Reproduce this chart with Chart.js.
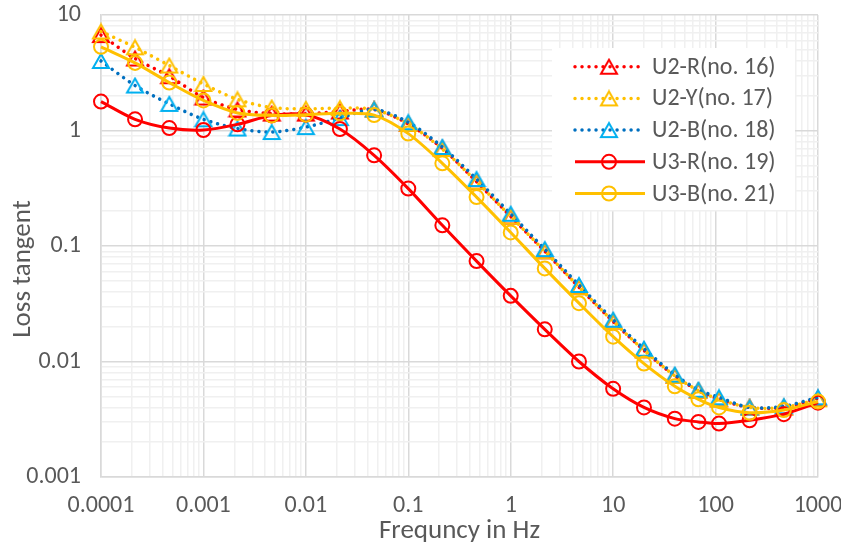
<!DOCTYPE html>
<html>
<head>
<meta charset="utf-8">
<title>Loss tangent vs frequency</title>
<script src="https://cdn.jsdelivr.net/npm/chart.js@4.4.1/dist/chart.umd.min.js"></script>
<style>
  html, body { margin: 0; padding: 0; background: #fff; }
  #wrap { position: relative; width: 841px; height: 546px; }
</style>
</head>
<body>
<div id="wrap"><canvas id="chart" width="841" height="546"></canvas></div>
<script>
// measurement frequencies (Hz), shared by every sample
const freq = [0.0001, 0.000215, 0.000464, 0.001, 0.00215, 0.00464, 0.01, 0.0215, 0.0464,
  0.1, 0.215, 0.464, 1, 2.15, 4.64, 10, 20, 40, 68, 108, 215, 464, 1000];

// loss tangent per sample
const u2R = [6.7, 4.2, 2.95, 1.93, 1.52, 1.40, 1.40, 1.46, 1.52, 1.14, 0.70, 0.36, 0.18,
  0.090, 0.044, 0.0222, 0.0125, 0.0075, 0.0056, 0.0047, 0.0040, 0.0040, 0.0048];
const u2Y = [7.2, 5.25, 3.65, 2.53, 1.86, 1.58, 1.54, 1.56, 1.52, 1.14, 0.69, 0.36, 0.18,
  0.090, 0.044, 0.0222, 0.0125, 0.0075, 0.0056, 0.0047, 0.0040, 0.0040, 0.0047];
const u2B = [4.0, 2.45, 1.70, 1.25, 1.04, 0.97, 1.07, 1.28, 1.52, 1.18, 0.72, 0.38, 0.19,
  0.094, 0.046, 0.023, 0.0129, 0.0077, 0.0057, 0.0049, 0.0040, 0.0041, 0.0049];
const u3R = [1.78, 1.25, 1.05, 1.01, 1.13, 1.35, 1.37, 1.03, 0.61, 0.314, 0.151, 0.074, 0.037,
  0.019, 0.010, 0.0058, 0.0040, 0.0032, 0.0030, 0.0029, 0.0031, 0.0035, 0.0044];
const u3B = [5.3, 3.85, 2.6, 1.82, 1.42, 1.35, 1.37, 1.41, 1.36, 0.94, 0.52, 0.265, 0.131,
  0.064, 0.032, 0.0164, 0.0096, 0.0061, 0.0047, 0.0040, 0.0036, 0.0038, 0.0045];

const seriesNames = ['U2-R(no. 16)', 'U2-Y(no. 17)', 'U2-B(no. 18)', 'U3-R(no. 19)', 'U3-B(no. 21)'];

const xTickLabels = ['0.0001', '0.001', '0.01', '0.1', '1', '10', '100', '1000'];
const yTickLabels = ['0.001', '0.01', '0.1', '1', '10'];

const FONT = 'Calibri, Carlito, Lato, sans-serif';
const FONT_SIZE = 24;
const TITLE_SIZE = 27;
const TEXT = '#595959';

// hollow triangle, centred on its bounding box like Excel markers
function triangleMarker(color) {
  const c = document.createElement('canvas');
  c.width = 20; c.height = 18;
  const g = c.getContext('2d');
  g.strokeStyle = color;
  g.lineWidth = 2;
  g.beginPath();
  g.moveTo(10, 2); g.lineTo(18, 16); g.lineTo(2, 16);
  g.closePath();
  g.stroke();
  return c;
}

// decades plus 2..9 minor steps, majors carry the labels
function logTicks(labels) {
  const majors = labels.map(Number);
  const out = [];
  majors.forEach((m, i) => {
    out.push({ value: m, major: true, label: labels[i] });
    if (i < majors.length - 1) {
      for (let k = 2; k <= 9; k++) out.push({ value: m * k, major: false, label: '' });
    }
  });
  return out;
}

const toPoints = ys => freq.map((x, i) => ({ x, y: ys[i] }));

function dotted(label, ys, lineColor, markColor) {
  return {
    label,
    data: toPoints(ys),
    borderColor: lineColor,
    borderWidth: 3.5,
    borderDash: [0.01, 7],
    borderCapStyle: 'round',
    pointStyle: triangleMarker(markColor),
    markColor,
    tension: 0.3,
    clip: false,
  };
}

function solid(label, ys, color) {
  return {
    label,
    data: toPoints(ys),
    borderColor: color,
    borderWidth: 3,
    pointStyle: 'circle',
    pointRadius: 7,
    pointBorderWidth: 2,
    pointBorderColor: color,
    pointBackgroundColor: 'rgba(0,0,0,0)',
    markColor: color,
    tension: 0.3,
    clip: false,
  };
}

// Excel-style legend box sitting inside the plot, plus the value axis title
const boxLegend = {
  id: 'boxLegend',
  afterDraw(chart) {
    const ctx = chart.ctx;
    ctx.save();
    ctx.fillStyle = '#fff';
    ctx.fillRect(552, 48, 243, 162);
    ctx.font = FONT_SIZE + 'px ' + FONT;
    chart.data.datasets.forEach((ds, i) => {
      const y = 66.7 + i * 31.7;
      ctx.strokeStyle = ds.borderColor;
      ctx.lineWidth = ds.borderWidth;
      ctx.lineCap = ds.borderCapStyle || 'butt';
      ctx.setLineDash(ds.borderDash || []);
      ctx.beginPath();
      ctx.moveTo(575, y);
      ctx.lineTo(645, y);
      ctx.stroke();
      ctx.setLineDash([]);
      if (ds.pointStyle === 'circle') {
        ctx.fillStyle = '#fff';
        ctx.strokeStyle = ds.markColor;
        ctx.lineWidth = 2;
        ctx.beginPath();
        ctx.arc(609, y, 7, 0, Math.PI * 2);
        ctx.stroke();
      } else {
        const img = ds.pointStyle;
        ctx.drawImage(img, 609 - img.width / 2, y - img.height / 2);
      }
      ctx.fillStyle = TEXT;
      ctx.textBaseline = 'middle';
      ctx.textAlign = 'left';
      ctx.fillText(ds.label, 652, y + 1);
    });

    ctx.font = TITLE_SIZE + 'px ' + FONT;
    ctx.translate(23, 269);
    ctx.rotate(-Math.PI / 2);
    ctx.textAlign = 'center';
    ctx.textBaseline = 'middle';
    ctx.fillStyle = TEXT;
    ctx.fillText('Loss tangent', 0, 0);
    ctx.restore();
  },
};

const gridColor = c => (c.tick && c.tick.major ? '#d9d9d9' : '#f0f0f0');

new Chart(document.getElementById('chart'), {
  type: 'line',
  data: {
    datasets: [
      dotted(seriesNames[0], u2R, '#ff0000', '#ff0000'),
      dotted(seriesNames[1], u2Y, '#ffc000', '#ffc000'),
      dotted(seriesNames[2], u2B, '#0070c0', '#00b0f0'),
      solid(seriesNames[3], u3R, '#ff0000'),
      solid(seriesNames[4], u3B, '#ffc000'),
    ].map((d, i) => ({ ...d, order: 4 - i })),
  },
  options: {
    responsive: false,
    animation: false,
    layout: { padding: { left: 0, right: 23, top: 15, bottom: 0 } },
    plugins: {
      legend: { display: false },
      tooltip: { enabled: false },
    },
    scales: {
      x: {
        type: 'logarithmic',
        min: 0.0001,
        max: 1000,
        afterBuildTicks: s => { s.ticks = logTicks(xTickLabels); },
        afterFit: s => { s.height = 69; s.paddingLeft = 0; s.paddingRight = 0; },
        grid: { color: gridColor, lineWidth: 1.5, drawTicks: false },
        border: { color: '#d9d9d9', width: 1.5 },
        ticks: {
          autoSkip: false,
          maxRotation: 0,
          padding: 15,
          color: TEXT,
          font: { family: FONT, size: FONT_SIZE },
          callback: (v, i, ticks) => ticks[i].label,
        },
        title: {
          display: true,
          text: 'Frequncy in Hz',
          color: TEXT,
          font: { family: FONT, size: TITLE_SIZE, lineHeight: 1.1 },
          padding: { top: 0, bottom: 0 },
        },
      },
      y: {
        type: 'logarithmic',
        min: 0.001,
        max: 10,
        afterBuildTicks: s => { s.ticks = logTicks(yTickLabels); },
        afterFit: s => { s.width = 101; s.paddingTop = 0; s.paddingBottom = 0; },
        grid: { color: gridColor, lineWidth: 1.5, drawTicks: false },
        border: { color: '#d9d9d9', width: 1.5 },
        ticks: {
          autoSkip: false,
          padding: 20,
          color: TEXT,
          font: { family: FONT, size: FONT_SIZE },
          callback: (v, i, ticks) => ticks[i].label,
        },
      },
    },
  },
  plugins: [boxLegend],
});
</script>
</body>
</html>
